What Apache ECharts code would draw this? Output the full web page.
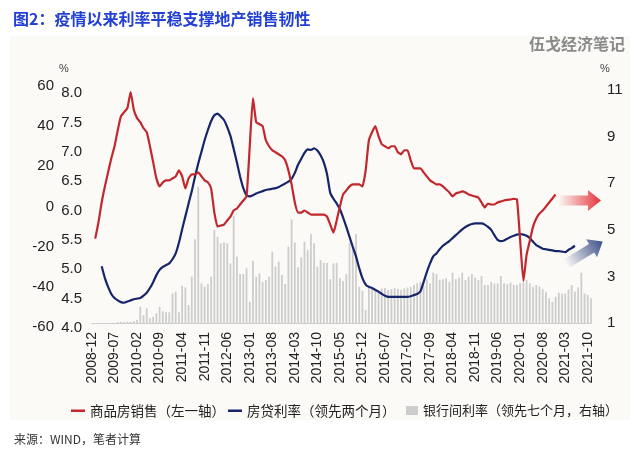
<!DOCTYPE html>
<html><head><meta charset="utf-8">
<script src="https://cdn.jsdelivr.net/npm/echarts@6/dist/echarts.min.js"></script>
<style>html,body{margin:0;padding:0;background:#fff}#c{width:640px;height:461px}</style>
</head><body><div id="c"></div><script>
const months = ['2008-12',
'2009-01','2009-02','2009-03','2009-04','2009-05','2009-06','2009-07','2009-08','2009-09','2009-10','2009-11','2009-12',
'2010-01','2010-02','2010-03','2010-04','2010-05','2010-06','2010-07','2010-08','2010-09','2010-10','2010-11','2010-12',
'2011-01','2011-02','2011-03','2011-04','2011-05','2011-06','2011-07','2011-08','2011-09','2011-10','2011-11','2011-12',
'2012-01','2012-02','2012-03','2012-04','2012-05','2012-06','2012-07','2012-08','2012-09','2012-10','2012-11','2012-12',
'2013-01','2013-02','2013-03','2013-04','2013-05','2013-06','2013-07','2013-08','2013-09','2013-10','2013-11','2013-12',
'2014-01','2014-02','2014-03','2014-04','2014-05','2014-06','2014-07','2014-08','2014-09','2014-10','2014-11','2014-12',
'2015-01','2015-02','2015-03','2015-04','2015-05','2015-06','2015-07','2015-08','2015-09','2015-10','2015-11','2015-12',
'2016-01','2016-02','2016-03','2016-04','2016-05','2016-06','2016-07','2016-08','2016-09','2016-10','2016-11','2016-12',
'2017-01','2017-02','2017-03','2017-04','2017-05','2017-06','2017-07','2017-08','2017-09','2017-10','2017-11','2017-12',
'2018-01','2018-02','2018-03','2018-04','2018-05','2018-06','2018-07','2018-08','2018-09','2018-10','2018-11','2018-12',
'2019-01','2019-02','2019-03','2019-04','2019-05','2019-06','2019-07','2019-08','2019-09','2019-10','2019-11','2019-12',
'2020-01','2020-02','2020-03','2020-04','2020-05','2020-06','2020-07','2020-08','2020-09','2020-10','2020-11','2020-12',
'2021-01','2021-02','2021-03','2021-04','2021-05','2021-06','2021-07','2021-08','2021-09','2021-10','2021-11'];

// 商品房销售 (%) left axis 1
const sales = [null,
-16,-8,2,10,17,24,30,38,45,47,49,57,
48,44,42,39,37,30,22,14,10,12,13,13,
14,15,18,15,9,14,16,16,17,15,13,12,
9,-3,-10,-9.5,-9,-7,-5,-2,-1,1,3,5,
30,54,42,41,40,33,30,28,27,26,25,23,
18,11,2,-3,-3,-2,-3,-4,-4,-4,-4,-4,
-5,-9,-13,-7,0,6,8,10,11,11,11,10,
18,33,37,40,35,31,30,29,30,30,27,26,
28,28,23,19,19,19,17,15,13,12,11,11,
10,8.5,7,5,6.5,7,7.5,7,6,5.5,5,4.5,
2,-0.5,1.5,1,1,2,2.5,3,3.3,3.5,3.8,3.5,
-17,-37,-24,-17,-10,-6,-3.5,-2,0,2,4,6,
null,null,null,null,null,null,null,null,null,null,null];

// 房贷利率 (%) left axis 2, leading two months
const mortgage = [null,
null,null,5.05,4.85,4.70,4.58,4.51,4.47,4.44,4.43,4.45,4.47,
4.49,4.50,4.51,4.55,4.60,4.68,4.78,4.90,4.99,5.04,5.07,5.10,
5.17,5.27,5.45,5.68,5.90,6.12,6.33,6.58,6.80,7.00,7.20,7.37,
7.52,7.62,7.65,7.60,7.54,7.42,7.27,7.05,6.82,6.58,6.38,6.26,
6.24,6.26,6.29,6.31,6.33,6.35,6.36,6.37,6.38,6.40,6.43,6.46,
6.49,6.54,6.64,6.78,6.88,6.98,7.04,7.03,7.06,7.02,6.94,6.82,
6.62,6.30,6.20,6.12,6.02,5.88,5.72,5.55,5.38,5.22,5.02,4.85,
4.74,4.70,4.68,4.65,4.62,4.58,4.55,4.53,4.53,4.53,4.53,4.53,
4.53,4.53,4.54,4.56,4.58,4.62,4.78,4.95,5.10,5.22,5.27,5.34,
5.40,5.44,5.48,5.53,5.58,5.63,5.68,5.72,5.75,5.77,5.78,5.78,
5.78,5.76,5.72,5.67,5.58,5.50,5.48,5.49,5.52,5.55,5.57,5.59,
5.60,5.59,5.57,5.53,5.47,5.41,5.38,5.35,5.34,5.33,5.32,5.31,
5.31,5.30,5.29,5.33,5.36,5.40,null,null,null,null,null];

// 银行间利率 (%) right axis, leading seven months
const interbank = [null,
null,null,null,null,null,null,null,1.04,1.05,1.04,1.06,1.05,
1.08,1.13,1.70,1.34,1.63,1.20,1.27,1.42,1.70,1.50,1.46,1.46,
2.27,2.34,1.46,2.59,2.53,1.77,2.99,4.59,6.85,2.70,2.56,2.67,
2.99,4.99,4.70,4.42,4.45,4.42,3.56,5.59,3.85,3.10,3.10,3.35,
1.91,3.67,2.99,3.13,2.77,2.85,2.99,4.06,3.42,3.63,3.06,2.67,
4.27,5.45,4.45,3.39,3.82,4.49,4.13,4.82,4.42,3.42,3.70,3.58,
3.58,2.88,3.56,3.58,2.92,2.80,3.10,4.45,4.27,4.82,2.56,2.39,
1.56,2.63,2.49,2.45,2.40,2.48,2.50,2.42,2.45,2.50,2.46,2.42,
2.48,2.52,2.55,2.63,2.70,2.77,2.60,2.88,2.70,3.16,3.10,2.85,
2.88,2.92,2.77,3.16,2.88,2.95,3.16,2.85,2.99,3.10,2.95,2.85,
3.02,2.63,2.63,2.77,2.70,2.70,3.02,2.70,2.67,2.73,2.63,2.63,
2.70,2.73,2.85,2.70,2.56,2.63,2.56,2.45,2.34,2.06,1.91,2.13,
2.30,2.27,2.27,2.44,2.63,2.34,2.53,3.16,2.27,2.20,2.06];

const titleText = '图2：疫情以来利率平稳支撑地产销售韧性';
const sName = '商品房销售（左一轴）';
const mName = '房贷利率（领先两个月）';
const bName = '银行间利率（领先七个月，右轴）';

const FONT = "'Liberation Sans', Arial, 'Noto Sans CJK SC', sans-serif";
const CJK = "'Noto Sans CJK SC', sans-serif";
const L = 92, R = 49;

const chart = echarts.init(document.getElementById('c'), null, {renderer: 'canvas'});
const arrowPts = [[0,-5],[30,-5],[30,-10.5],[43,0],[30,10.5],[30,5],[0,5]];
const baseX = {type: 'category', data: months, boundaryGap: false,
  axisTick: {show: false}, axisLine: {show: false}, axisLabel: {show: false}, splitLine: {show: false}};
const yCommon = {type: 'value', axisLine: {show: false}, axisTick: {show: false}, splitLine: {show: false}};

chart.setOption({
  animation: false,
  backgroundColor: '#ffffff',
  title: {text: titleText, left: 8, top: 6,
    textStyle: {color: '#2340d6', fontSize: 16, fontWeight: 'bold', fontFamily: CJK}},
  graphic: [
    {type: 'rect', z: -10, silent: true, shape: {x: 10, y: 36, width: 620, height: 384}, style: {fill: '#fbfaf6'}},
    {type: 'text', right: 15, top: 36, silent: true,
      style: {text: '伍戈经济笔记', fill: '#8a8a8a', font: 'bold 16px "Noto Sans CJK SC"'}},
    {type: 'text', left: 14, top: 433, silent: true,
      style: {text: '来源：WIND，笔者计算', fill: '#333333', font: '12px "Noto Sans CJK SC"'}},
    {type: 'polygon', x: 558, y: 200.5, silent: true, shape: {points: arrowPts},
      style: {fill: {type: 'linear', x: 0, y: 0, x2: 1, y2: 0,
        colorStops: [{offset: 0, color: 'rgba(232,52,58,0)'}, {offset: 1, color: '#e3343a'}]}}},
    {type: 'polygon', x: 566, y: 264, rotation: 0.55, silent: true, shape: {points: arrowPts},
      style: {fill: {type: 'linear', x: 0, y: 0, x2: 1, y2: 0,
        colorStops: [{offset: 0, color: 'rgba(59,79,136,0)'}, {offset: 1, color: '#3b4f88'}]}}}
  ],
  legend: [
    {left: 66, top: 399, width: 360, itemWidth: 14, itemHeight: 2.5, itemGap: 3, icon: 'rect',
      textStyle: {fontSize: 13.5, color: '#222', fontFamily: CJK}, data: [sName, mName]},
    {left: 401, top: 399, width: 240, itemWidth: 12, itemHeight: 9, itemGap: 3, icon: 'rect',
      textStyle: {fontSize: 13, color: '#222', fontFamily: CJK}, data: [bName]}
  ],
  grid: [
    {left: L, right: R, top: 86, bottom: 134},
    {left: L, right: R, top: 93, bottom: 133},
    {left: L, right: R, top: 90, bottom: 138}
  ],
  xAxis: [
    Object.assign({}, baseX, {gridIndex: 0}),
    Object.assign({}, baseX, {gridIndex: 1}),
    Object.assign({}, baseX, {gridIndex: 2,
      axisLine: {show: true, lineStyle: {color: '#c4c4c4', type: 'dotted', width: 1}},
      axisLabel: {show: true, interval: 6, rotate: 90, fontSize: 14, color: '#222', margin: 9, fontFamily: FONT}})
  ],
  yAxis: [
    Object.assign({}, yCommon, {gridIndex: 0, min: -60, max: 60, interval: 20, position: 'left', offset: 28,
      name: '%', nameLocation: 'end', nameGap: 12, nameTextStyle: {fontSize: 11, color: '#444', fontFamily: FONT},
      axisLabel: {fontSize: 15, color: '#222', margin: 10, fontFamily: FONT}}),
    Object.assign({}, yCommon, {gridIndex: 1, min: 4, max: 8, interval: 0.5, position: 'left',
      axisLabel: {fontSize: 15, color: '#222', margin: 10, fontFamily: FONT, formatter: v => v.toFixed(1)}}),
    Object.assign({}, yCommon, {gridIndex: 2, min: 1, max: 11, interval: 2, position: 'right', offset: 14,
      name: '%', nameLocation: 'end', nameGap: 16, nameTextStyle: {fontSize: 11, color: '#444', fontFamily: FONT},
      axisLabel: {fontSize: 15, color: '#222', margin: 2, fontFamily: FONT}})
  ],
  series: [
    {name: sName, type: 'line', xAxisIndex: 0, yAxisIndex: 0, data: sales, symbol: 'none', smooth: 0.15,
      lineStyle: {color: '#c1272d', width: 2.2}, itemStyle: {color: '#c1272d'}, z: 4},
    {name: mName, type: 'line', xAxisIndex: 1, yAxisIndex: 1, data: mortgage, symbol: 'none', smooth: 0.15,
      lineStyle: {color: '#16256a', width: 2.2}, itemStyle: {color: '#16256a'}, z: 3},
    {name: bName, type: 'bar', xAxisIndex: 2, yAxisIndex: 2, data: interbank, barWidth: 1.8,
      itemStyle: {color: '#cdcdcd'}, z: 1}
  ]
});
</script></body></html>
